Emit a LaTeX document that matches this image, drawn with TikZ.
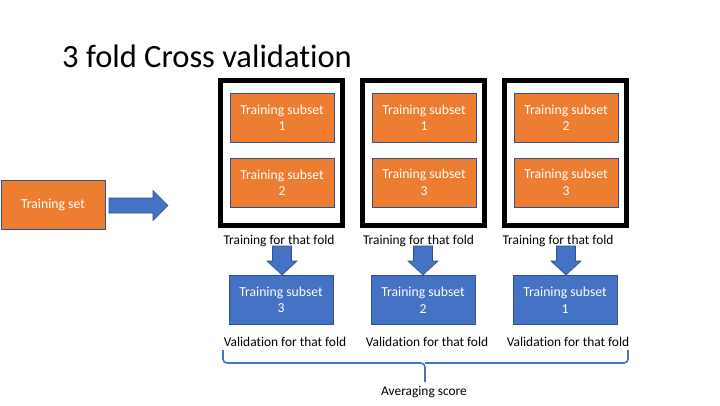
\documentclass[tikz,border=0pt]{standalone}
\usepackage{fontspec}
\setmainfont{Carlito}[Ligatures=NoCommon]
\usetikzlibrary{calc}
\definecolor{orng}{HTML}{ED7D31}
\definecolor{blu}{HTML}{4472C4}
\definecolor{bdr}{HTML}{2F528F}
\tikzset{
  obox/.style={draw=bdr, line width=0.8pt, fill=orng, text=white, minimum width=104pt, minimum height=49pt, align=center, font=\fontsize{13.7}{16.5}\selectfont, inner sep=0pt},
  bbox/.style={obox, fill=blu},
  fold/.style={draw=black, line width=5pt, fill=white, minimum width=122pt, minimum height=145pt, inner sep=0pt},
  lbl/.style={font=\fontsize{13.4}{15}\selectfont, text=black, inner sep=0pt},
  blockarrow/.style={fill=blu, draw=bdr, line width=0.6pt}
}
\begin{document}
\begin{tikzpicture}[x=1pt,y=-1pt]
\useasboundingbox (0,0) rectangle (720,405);
\fill[white] (0,0) rectangle (720,405);

\node[anchor=base west, inner sep=0pt, font=\fontsize{32.5}{35}\selectfont] (title) at (62,67) {3 fold Cross validation};

\node[obox] (ts) at (53,204.5) {Training set};

% right arrow
\coordinate (ra) at (109,205.5);
\draw[blockarrow] (ra) ++(0,-7.5) -- ++(44,0) -- ++(0,-7.5) -- ($(ra)+(59,0)$) -- ++(-15,15) -- ++(0,-7.5) -- ++(-44,0) -- cycle;

% fold boxes
\node[fold] (f1) at (281.5,153) {};
\node[fold] (f2) at (423.5,153) {};
\node[fold] (f3) at (565,153) {};

\node[obox] (a1) at (282,117.5) {Training subset\\1};
\node[obox] (b1) at (282,182.5) {Training subset\\2};
\node[obox] (a2) at (424,117.5) {Training subset\\1};
\node[obox] (b2) at (424,182.5) {Training subset\\3};
\node[obox] (a3) at (566,117.5) {Training subset\\2};
\node[obox] (b3) at (566,182.5) {Training subset\\3};

% down arrows
\foreach \i/\x in {1/282,2/423,3/566}{
  \coordinate (d\i) at (\x,246);
  \draw[blockarrow] (d\i) ++(-9.5,0) -- ++(19,0) -- ++(0,15) -- ++(5.5,0) -- ($(d\i)+(0,29)$) -- ++(-15,-14) -- ++(5.5,0) -- cycle;
}

\node[lbl] (t1) at (279,241) {Training for that fold};
\node[lbl] (t2) at (418.5,241) {Training for that fold};
\node[lbl] (t3) at (558,241) {Training for that fold};

\node[bbox] (v1) at (281,300) {Training subset\\3};
\node[bbox] (v2) at (423,300) {Training subset\\2};
\node[bbox] (v3) at (565,300) {Training subset\\1};

\node[lbl] (l1) at (285,342) {Validation for that fold};
\node[lbl] (l2) at (427,342) {Validation for that fold};
\node[lbl] (l3) at (568,342) {Validation for that fold};

% brace
\coordinate (bl) at (223,350);
\coordinate (br) at (628,350);
\coordinate (bm) at (425,382);
\draw[blu, line width=1.6pt, rounded corners=4pt] (bl) -- (223,363) -- (425,363) -- (bm);
\draw[blu, line width=1.6pt, rounded corners=4pt] (br) -- (628,363) -- (425,363);

\node[lbl] (avg) at (424,392) {Averaging score};
\end{tikzpicture}
\end{document}
